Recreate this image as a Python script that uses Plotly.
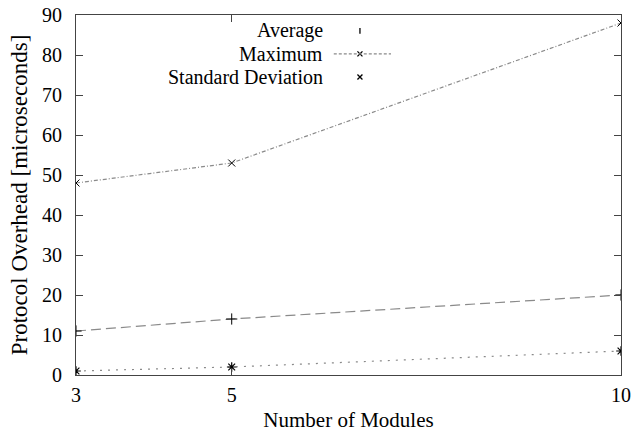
import plotly.graph_objects as go

modules = [3, 5, 10]
average = [11, 14, 20]
maximum = [48, 53, 88]
std_dev = [1, 2, 6]
x_ticks = [3, 5, 10]
y_ticks = list(range(0, 91, 10))

FONT = "Liberation Serif"
LINE_GREY = "#8a8a8a"

fig = go.Figure()

fig.add_trace(go.Scatter(
    x=modules, y=average, mode="lines+markers", name="Average",
    line=dict(color=LINE_GREY, width=1.2, dash="10px,5px"),
    marker=dict(symbol="cross-thin", size=8, color="black", line=dict(color="black", width=1)),
    showlegend=False))
fig.add_trace(go.Scatter(
    x=modules, y=maximum, mode="lines+markers", name="Maximum",
    line=dict(color=LINE_GREY, width=1.2, dash="4px,2px,1px,2px"),
    marker=dict(symbol="x-thin", size=7, color="black", line=dict(color="black", width=1)),
    showlegend=False))
fig.add_trace(go.Scatter(
    x=modules, y=std_dev, mode="lines+markers", name="Standard Deviation",
    line=dict(color=LINE_GREY, width=1.2, dash="2px,6px"),
    marker=dict(symbol="asterisk-open", size=8, color="black", line=dict(color="black", width=1.2)),
    showlegend=False))

# Legend (gnuplot style: right-aligned text, sample to the right)
legend_names = ["Average", "Maximum", "Standard Deviation"]
legend_y = [0.956, 0.892, 0.828]
legend_syms = ["line-ns-open", "x-thin-open", "x-thin-open"]
legend_sizes = [4, 5, 5]
sample_x = 0.521
for name, ly, sym, sz in zip(legend_names, legend_y, legend_syms, legend_sizes):
    fig.add_annotation(x=0.4553, y=ly, xref="paper", yref="paper", text=name,
                       showarrow=False, xanchor="right", yanchor="middle", borderpad=0,
                       font=dict(family=FONT, size=20, color="black"))
    fig.add_trace(go.Scatter(x=[sample_x], y=[ly], xaxis="x2", yaxis="y2", mode="markers",
                             marker=dict(symbol=sym, size=sz, color="black",
                                         line=dict(color="black", width=1.3)),
                             showlegend=False, hoverinfo="skip"))
fig.add_trace(go.Scatter(x=[0.473, 0.578], y=[legend_y[1], legend_y[1]], xaxis="x2", yaxis="y2",
                         mode="lines", line=dict(color=LINE_GREY, width=1.2, dash="3px,2px"),
                         showlegend=False, hoverinfo="skip"))

axis_common = dict(showgrid=False, zeroline=False, showline=True, linecolor="#444444",
                   linewidth=1.2, mirror="ticks", ticks="inside", ticklen=7,
                   tickcolor="#444444", tickwidth=1.2, automargin=False,
                   ticklabeloverflow="allow",
                   tickfont=dict(family=FONT, size=20, color="black"))

fig.update_layout(
    width=633, height=432,
    margin=dict(l=76, r=12, t=15, b=57, autoexpand=False),
    plot_bgcolor="white", paper_bgcolor="white",
    font=dict(family=FONT, size=20, color="black"),
    xaxis=dict(range=[3, 10], tickvals=x_ticks, ticktext=[str(v) for v in x_ticks],
               ticklabelstandoff=2,
               title=dict(text="Number of Modules", font=dict(family=FONT, size=21), standoff=7),
               **axis_common),
    yaxis=dict(range=[0, 90], tickvals=y_ticks, ticklabelstandoff=9,
               title=dict(text="Protocol Overhead [microseconds]", font=dict(family=FONT, size=23), standoff=7),
               **axis_common),
    xaxis2=dict(range=[0, 1], overlaying="x", visible=False, fixedrange=True, automargin=False),
    yaxis2=dict(range=[0, 1], overlaying="y", visible=False, fixedrange=True, automargin=False),
)

# remove the browser's default 8px body margin so the figure sits at the page origin
fig.write_html("out.html", config={"displayModeBar": False},
               post_script="document.body.style.margin='0';")
